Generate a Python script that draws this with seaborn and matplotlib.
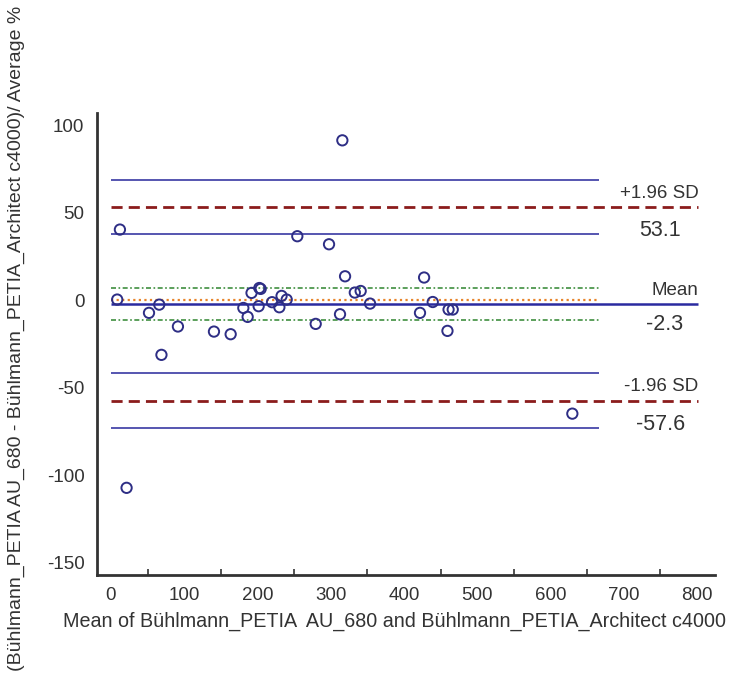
import matplotlib
matplotlib.use("Agg")
import matplotlib.pyplot as plt
import seaborn as sns
import numpy as np
import pandas as pd
from matplotlib.ticker import MultipleLocator

# mean of the two methods
x_mean = [8.6, 12.3, 21.4, 52, 66, 69, 91.5, 140.7, 163.5, 180.8, 186.7, 192,
          201.7, 202.6, 204.5, 220, 230, 233, 240, 254.5, 279.6, 297.8, 312.8,
          316, 319.7, 333, 341, 353.8, 422, 427.6, 439.4, 459.5, 461, 466.7, 630]
# difference / average %
y_diff = [0.4, 40.4, -107.2, -7.2, -2.5, -31.2, -15, -17.9, -19.4, -4.4, -9.5, 4.2,
          -3.4, 7, 6.5, -1.1, -4, 2.5, 0.4, 36.6, -13.5, 32, -8,
          91.4, 13.7, 4.4, 5.3, -1.9, -7.2, 13, -1, -17.5, -5.3, -5.3, -64.8]

mean_diff = -2.3
upper_loa = 53.1
lower_loa = -57.6
ci_upper_loa = [37.6, 68.8]
ci_mean = [-11.0, 7.0]
ci_lower_loa = [-73.2, -41.6]

df = pd.DataFrame({"x": x_mean, "y": y_diff})

sns.set_style("white")
plt.rcParams["font.family"] = ["Liberation Sans", "DejaVu Sans"]
plt.rcParams["axes.unicode_minus"] = False

fig = plt.figure(figsize=(7.32, 6.81), dpi=100)
ax = fig.add_axes([0.1325, 0.1557, 0.8445, 0.6783])

line_end = 802
ci_end = 667

# confidence intervals
ax.hlines(ci_upper_loa + ci_lower_loa, 0, ci_end, color="#5555b0", lw=1.4, zorder=2)
ax.hlines(ci_mean, 0, ci_end, color="#3f8f3f", lw=1.2, linestyles=(0, (3, 1.5, 1, 1.5)), zorder=2)
# line of equality
ax.hlines(0, 0, ci_end, color="#e8842a", lw=1.6, linestyles=(0, (1, 1.5)), zorder=2)
# mean and limits of agreement
ax.hlines(mean_diff, 0, line_end, color="#2a2aa0", lw=1.8, zorder=2)
ax.hlines([upper_loa, lower_loa], 0, line_end, color="#8b1c1c", lw=2.0,
          linestyles=(0, (4, 2.2)), zorder=2)

sns.scatterplot(data=df, x="x", y="y", ax=ax, marker="o", s=55,
                facecolors="none", edgecolor="#2e2e85", linewidth=1.4, zorder=3)

txt_kw = dict(color="#333333")
ax.annotate("+1.96 SD", (line_end, upper_loa), xytext=(0, 4), textcoords="offset points",
            ha="right", va="bottom", fontsize=13.5, **txt_kw)
ax.annotate(f"{upper_loa}", (750, upper_loa), xytext=(0, -9), textcoords="offset points",
            ha="center", va="top", fontsize=15.5, **txt_kw)
ax.annotate("Mean", (line_end, mean_diff), xytext=(0, 4), textcoords="offset points",
            ha="right", va="bottom", fontsize=13.5, **txt_kw)
ax.annotate(f"{mean_diff}", (756, mean_diff), xytext=(0, -7), textcoords="offset points",
            ha="center", va="top", fontsize=15.5, **txt_kw)
ax.annotate("-1.96 SD", (line_end, lower_loa), xytext=(0, 4), textcoords="offset points",
            ha="right", va="bottom", fontsize=13.5, **txt_kw)
ax.annotate(f"{lower_loa}", (750, lower_loa), xytext=(0, -9), textcoords="offset points",
            ha="center", va="top", fontsize=15.5, **txt_kw)

ax.set_xlim(-19, 825)
ax.set_ylim(-157, 107)
ax.set_xticks(np.arange(0, 801, 100))
ax.xaxis.set_minor_locator(MultipleLocator(50))
ax.set_yticks(np.arange(-150, 101, 50))

ax.tick_params(axis="both", which="major", direction="in", length=9, width=1.5,
               color="#333333", labelcolor="#333333", labelsize=13.5, pad=9)
ax.tick_params(axis="x", which="minor", direction="in", length=4, width=1.2, color="#333333")
ax.tick_params(axis="y", which="minor", left=False)
ax.tick_params(axis="x", which="minor", bottom=True)

sns.despine(ax=ax)
for s in ["left", "bottom"]:
    ax.spines[s].set_linewidth(2)
    ax.spines[s].set_color("#333333")

ax.set_xlabel("Mean of Bühlmann_PETIA  AU_680 and Bühlmann_PETIA_Architect c4000",
              fontsize=14.2, color="#333333", labelpad=7)
ax.set_ylabel("(Bühlmann_PETIA AU_680 - Bühlmann_PETIA_Architect c4000)/ Average %",
              fontsize=14.0, color="#333333", labelpad=14)
ax.xaxis.set_label_coords(0.482, -0.08)
ax.yaxis.set_label_coords(-0.117, 0.513)

fig.savefig("out.png", dpi=100)
